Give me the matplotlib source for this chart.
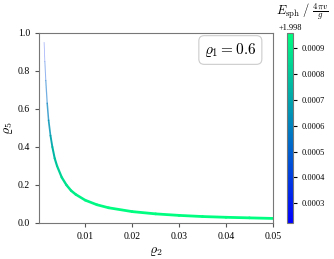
import numpy as np
import matplotlib
matplotlib.use('Agg')
import matplotlib.pyplot as plt
from matplotlib.collections import LineCollection

plt.rcParams['font.family'] = ['Liberation Serif', 'DejaVu Serif']
plt.rcParams['mathtext.fontset'] = 'cm'

# values
rho2 = [0.00124, 0.0014, 0.0016, 0.0019, 0.0022, 0.0026, 0.003, 0.0035, 0.004,
        0.005, 0.006, 0.007, 0.008, 0.01, 0.0125, 0.015, 0.02, 0.025, 0.03,
        0.035, 0.04, 0.045, 0.05]
rho5 = [0.95, 0.85, 0.75, 0.63, 0.54, 0.46, 0.40, 0.34, 0.30,
        0.24, 0.20, 0.17, 0.15, 0.12, 0.096, 0.08, 0.06, 0.048, 0.04,
        0.034, 0.03, 0.027, 0.024]
esph = [0.00030, 0.00040, 0.00050, 0.00058, 0.00062, 0.00068, 0.00072, 0.00077, 0.00080,
        0.00085, 0.00088, 0.00090, 0.00091, 0.00093, 0.00094, 0.00095, 0.00095, 0.00096, 0.00096,
        0.00096, 0.00096, 0.00096, 0.00096]
offset = 1.998
emin, emax = 0.000224, 0.000959
cticks = [0.0003, 0.0004, 0.0005, 0.0006, 0.0007, 0.0008, 0.0009]

fig = plt.figure(figsize=(3.34, 2.59), dpi=100)
ax = fig.add_axes([0.117, 0.139, 0.700, 0.734])
cax = fig.add_axes([0.859, 0.139, 0.018, 0.734])

pts = np.array([rho2, rho5]).T.reshape(-1, 1, 2)
segs = np.concatenate([pts[:-1], pts[1:]], axis=1)
norm = plt.Normalize(emin, emax)
e = np.array(esph)
r = np.array(rho5[:-1])
lw = np.clip(0.5 + 1.6 * (1 - r), 0.5, 2.0)
alpha = np.clip(1.6 - 1.4 * r, 0.35, 1.0)
lc = LineCollection(segs, cmap='winter', norm=norm, linewidths=lw, capstyle='round')
lc.set_array((e[:-1] + e[1:]) / 2)
lc.set_alpha(alpha)
ax.add_collection(lc)

ax.set_xlim(0.00017, 0.05)
ax.set_ylim(0, 1.0)
ax.set_xticks([0.01, 0.02, 0.03, 0.04, 0.05])
ax.set_xticklabels(['0.01', '0.02', '0.03', '0.04', '0.05'])
ax.set_yticks([0.0, 0.2, 0.4, 0.6, 0.8, 1.0])
ax.set_yticklabels(['0.0', '0.2', '0.4', '0.6', '0.8', '1.0'])
ax.tick_params(labelsize=7, length=3, width=0.8, color='#555555')
for s in ax.spines.values():
    s.set_color('#777777')
ax.set_xlabel(r'$\varrho_2$', fontsize=10, labelpad=3)
ax.set_ylabel(r'$\varrho_5$', fontsize=10, labelpad=2)

ax.text(0.93, 0.91, r'$\varrho_1 = 0.6$', transform=ax.transAxes, fontsize=11,
        ha='right', va='center',
        bbox=dict(boxstyle='round,pad=0.35', fc='white', ec='#cccccc', lw=0.8))

sm = plt.cm.ScalarMappable(norm=norm, cmap='winter')
cb = fig.colorbar(sm, cax=cax, ticks=cticks)
cb.ax.set_yticklabels(['%.4f' % t for t in cticks])
cb.ax.tick_params(labelsize=6, length=3, width=0.8)
cb.outline.set_edgecolor('#777777')
cax.text(0.5, 1.005, '+%.3f' % offset, transform=cax.transAxes, fontsize=6,
         ha='center', va='bottom')
fig.text(0.905, 0.955, r'$E_{\rm sph}\ /\ \frac{4\pi v}{g}$', fontsize=9,
         ha='center', va='center')

fig.savefig('out.png', dpi=100)
